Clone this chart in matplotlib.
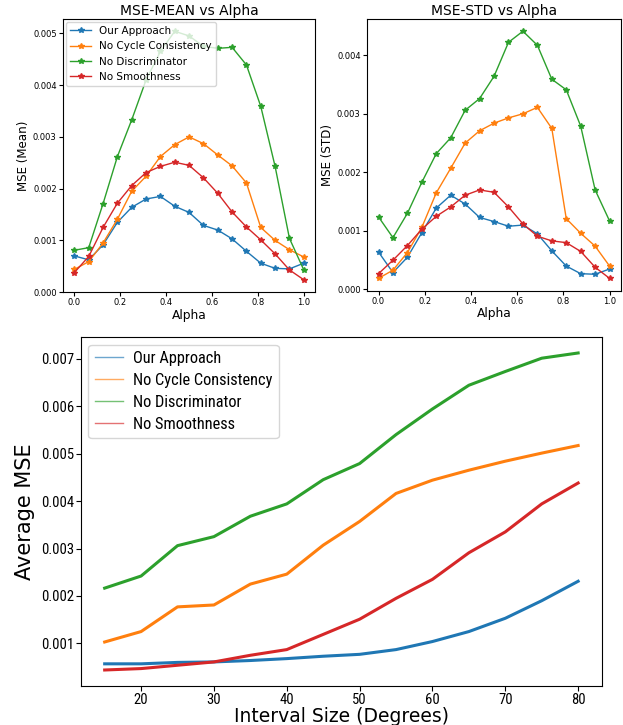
import numpy as np
import matplotlib
matplotlib.use("Agg")
import matplotlib.pyplot as plt
from matplotlib import font_manager

alpha = [i / 16 for i in range(17)]
labels = ["Our Approach", "No Cycle Consistency", "No Discriminator", "No Smoothness"]

mean_ours = [0.70, 0.625, 0.915, 1.35, 1.64, 1.80, 1.85, 1.66, 1.54, 1.29, 1.20, 1.03, 0.79, 0.56, 0.46, 0.45, 0.56]
mean_nocyc = [0.44, 0.59, 0.95, 1.41, 1.95, 2.24, 2.62, 2.85, 3.00, 2.87, 2.65, 2.44, 2.11, 1.25, 1.00, 0.82, 0.68]
mean_nodisc = [0.81, 0.86, 1.71, 2.62, 3.33, 4.10, 4.65, 5.04, 4.95, 4.75, 4.71, 4.73, 4.39, 3.59, 2.43, 1.04, 0.43]
mean_nosmooth = [0.38, 0.69, 1.25, 1.72, 2.06, 2.31, 2.43, 2.51, 2.45, 2.21, 1.91, 1.55, 1.26, 1.01, 0.74, 0.43, 0.24]

std_ours = [0.64, 0.29, 0.55, 0.97, 1.39, 1.61, 1.46, 1.23, 1.16, 1.08, 1.10, 0.95, 0.66, 0.40, 0.27, 0.26, 0.35]
std_nocyc = [0.19, 0.33, 0.63, 1.06, 1.65, 2.07, 2.50, 2.71, 2.84, 2.93, 3.00, 3.11, 2.75, 1.21, 0.96, 0.74, 0.40]
std_nodisc = [1.24, 0.885, 1.30, 1.83, 2.32, 2.59, 3.06, 3.26, 3.64, 4.22, 4.41, 4.17, 3.59, 3.41, 2.79, 1.70, 1.17]
std_nosmooth = [0.27, 0.50, 0.75, 1.03, 1.25, 1.41, 1.61, 1.70, 1.66, 1.41, 1.12, 0.91, 0.83, 0.80, 0.65, 0.38, 0.19]

interval = [15, 20, 25, 30, 35, 40, 45, 50, 55, 60, 65, 70, 75, 80]
avg_ours = [0.57, 0.57, 0.60, 0.61, 0.64, 0.68, 0.73, 0.77, 0.87, 1.04, 1.25, 1.53, 1.90, 2.31]
avg_nocyc = [1.03, 1.25, 1.77, 1.81, 2.25, 2.46, 3.07, 3.57, 4.16, 4.44, 4.65, 4.84, 5.01, 5.17]
avg_nodisc = [2.165, 2.42, 3.06, 3.25, 3.68, 3.94, 4.45, 4.79, 5.40, 5.94, 6.44, 6.73, 7.01, 7.12]
avg_nosmooth = [0.44, 0.47, 0.54, 0.61, 0.75, 0.87, 1.19, 1.51, 1.95, 2.35, 2.91, 3.35, 3.94, 4.38]

colors = ["#1f77b4", "#ff7f0e", "#2ca02c", "#d62728"]

def sc(v):
    return np.array(v) * 1e-3

names = {f.name for f in font_manager.fontManager.ttflist}
cond = None
for cand in ["DejaVu Sans Condensed", "Liberation Sans Narrow", "Roboto Condensed"]:
    if cand in names:
        cond = cand
        break
if cond is None:
    cond = "DejaVu Sans"
cfam = [cond, "DejaVu Sans"]

fig = plt.figure(figsize=(6.23, 7.25), dpi=100)
fmt = matplotlib.ticker.FormatStrFormatter("%.3f")

ax1 = fig.add_axes([0.101, 0.597, 0.405, 0.377])
for d, c, l in zip([mean_ours, mean_nocyc, mean_nodisc, mean_nosmooth], colors, labels):
    ax1.plot(alpha, sc(d), marker="*", markersize=4, lw=1.0, color=c, label=l)
ax1.set_title("MSE-MEAN vs Alpha", fontsize=10, pad=3)
ax1.set_xlabel("Alpha", fontsize=8.8, labelpad=1)
ax1.set_ylabel("MSE (Mean)", fontsize=8.6, labelpad=2)
ax1.tick_params(labelsize=6, pad=1.5, length=3)
ax1.set_yticks(np.arange(0, 0.0051, 0.001))
ax1.yaxis.set_major_formatter(fmt)
ax1.legend(loc="upper left", fontsize=7.5, borderaxespad=0.3, handlelength=2)

ax2 = fig.add_axes([0.589, 0.599, 0.408, 0.375])
for d, c, l in zip([std_ours, std_nocyc, std_nodisc, std_nosmooth], colors, labels):
    ax2.plot(alpha, sc(d), marker="*", markersize=4, lw=1.0, color=c, label=l)
ax2.set_title("MSE-STD vs Alpha", fontsize=10, pad=3)
ax2.set_xlabel("Alpha", fontsize=8.8, labelpad=1)
ax2.set_ylabel("MSE (STD)", fontsize=8.6, labelpad=2)
ax2.tick_params(labelsize=6, pad=1.5, length=3)
ax2.set_yticks(np.arange(0, 0.0041, 0.001))
ax2.yaxis.set_major_formatter(fmt)

ax3 = fig.add_axes([0.130, 0.054, 0.836, 0.481])
for d, c, l in zip([avg_ours, avg_nocyc, avg_nodisc, avg_nosmooth], colors, labels):
    ax3.plot(interval, sc(d), lw=2.2, color=c, label=l)
ax3.set_xlabel("Interval Size (Degrees)", fontsize=13.5, labelpad=0)
ax3.set_ylabel("Average MSE", fontsize=15, labelpad=4)
ax3.set_xticks([20, 30, 40, 50, 60, 70, 80])
ax3.set_yticks(np.arange(0.001, 0.00701, 0.001))
ax3.yaxis.set_major_formatter(fmt)
ax3.tick_params(pad=1.5, length=3.5)
for t in ax3.get_xticklabels() + ax3.get_yticklabels():
    t.set_family(cfam)
    t.set_fontsize(10.5)
leg = ax3.legend(loc="upper left", prop={"family": cfam, "size": 11.8},
                 handlelength=1.7, handletextpad=0.6, borderaxespad=0.45, labelspacing=0.42)
for h in leg.get_lines():
    h.set_linewidth(1.0)
    h.set_alpha(0.65)

fig.savefig("out.png", dpi=100)
